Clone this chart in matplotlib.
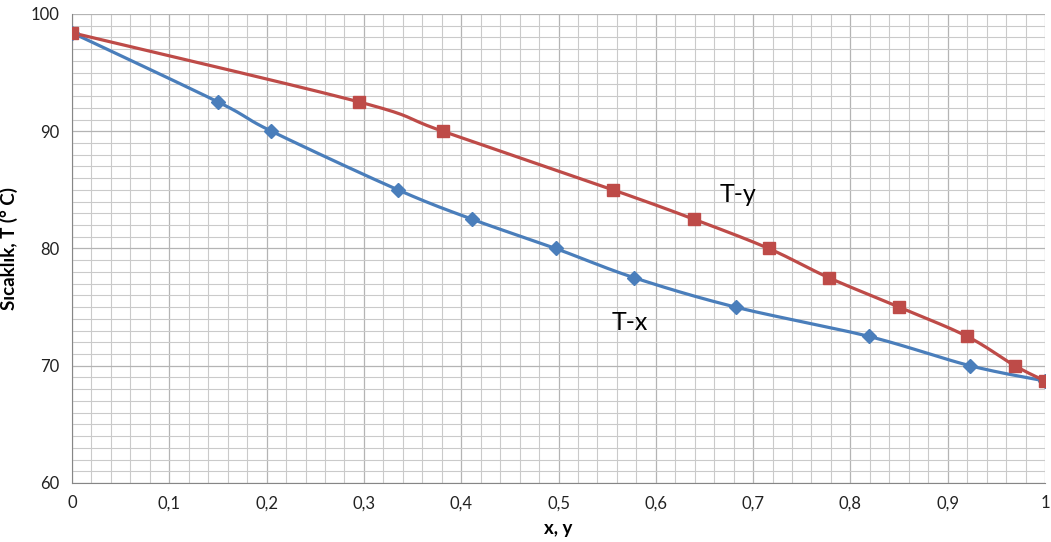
import numpy as np
import matplotlib
matplotlib.use("Agg")
import matplotlib.pyplot as plt
from matplotlib.ticker import MultipleLocator, FuncFormatter

plt.rcParams['font.family'] = ['Lato', 'DejaVu Sans']

# liquid composition (T-x)
x_liq = [0.0, 0.150, 0.205, 0.335, 0.411, 0.497, 0.578, 0.682, 0.819, 0.923, 1.0]
T_liq = [98.4, 92.5, 90.0, 85.0, 82.5, 80.0, 77.5, 75.0, 72.5, 70.0, 68.7]

# vapour composition (T-y)
y_vap = [0.0, 0.295, 0.381, 0.556, 0.639, 0.716, 0.778, 0.850, 0.920, 0.969, 1.0]
T_vap = [98.4, 92.5, 90.0, 85.0, 82.5, 80.0, 77.5, 75.0, 72.5, 70.0, 68.7]

blue = '#4A7EBB'
red = '#BE4B48'


def smooth(xs, ys, n=20):
    # Excel-like smoothed line through the points (cardinal spline)
    xs = np.asarray(xs, float)
    ys = np.asarray(ys, float)
    px = np.concatenate([[xs[0]], xs, [xs[-1]]])
    py = np.concatenate([[ys[0]], ys, [ys[-1]]])
    out_x, out_y = [], []
    t = np.linspace(0, 1, n)
    for i in range(1, len(px) - 2):
        p0, p1, p2, p3 = np.array([px[i-1], py[i-1]]), np.array([px[i], py[i]]), \
            np.array([px[i+1], py[i+1]]), np.array([px[i+2], py[i+2]])
        c1 = p1 + (p2 - p0) / 6
        c2 = p2 - (p3 - p1) / 6
        for tt in t:
            b = ((1-tt)**3) * p1 + 3*((1-tt)**2)*tt*c1 + 3*(1-tt)*tt**2*c2 + tt**3*p2
            out_x.append(b[0])
            out_y.append(b[1])
    return out_x, out_y


fig = plt.figure(figsize=(10.51, 5.42), dpi=100)
ax = fig.add_axes([0.0685, 0.1089, 0.9258, 0.8653])

sx, sy = smooth(x_liq, T_liq)
ax.plot(sx, sy, color=blue, lw=2.3, zorder=3)
ax.plot(x_liq, T_liq, ls='none', marker='D', ms=7, color=blue, zorder=4)

sx, sy = smooth(y_vap, T_vap)
ax.plot(sx, sy, color=red, lw=2.3, zorder=3)
ax.plot(y_vap, T_vap, ls='none', marker='s', ms=8.5, color=red, zorder=4)

ax.set_xlim(0, 1)
ax.set_ylim(60, 100)
ax.xaxis.set_major_locator(MultipleLocator(0.1))
ax.xaxis.set_minor_locator(MultipleLocator(0.02))
ax.yaxis.set_major_locator(MultipleLocator(10))
ax.yaxis.set_minor_locator(MultipleLocator(1))
ax.xaxis.set_major_formatter(FuncFormatter(lambda v, p: ('%g' % round(v, 2)).replace('.', ',')))
ax.grid(which='major', color='#b4b4b4', lw=0.9)
ax.grid(which='minor', color='#cacaca', lw=0.8)
ax.set_axisbelow(True)
ax.tick_params(which='both', length=0, labelsize=12, colors='#222222', pad=9)

for s in ['top', 'right']:
    ax.spines[s].set_visible(False)
for s in ['left', 'bottom']:
    ax.spines[s].set_color('#868686')

ax.set_xlabel('x, y', fontsize=13.5, fontweight='bold', labelpad=6)
ax.set_ylabel('Sıcaklık, T (° C)', fontsize=13.5, fontweight='bold', labelpad=9)

ax.text(0.666, 84.6, 'T-y', fontsize=18, va='center', ha='left')
ax.text(0.555, 73.7, 'T-x', fontsize=18, va='center', ha='left')

fig.savefig('out.png', dpi=100)
